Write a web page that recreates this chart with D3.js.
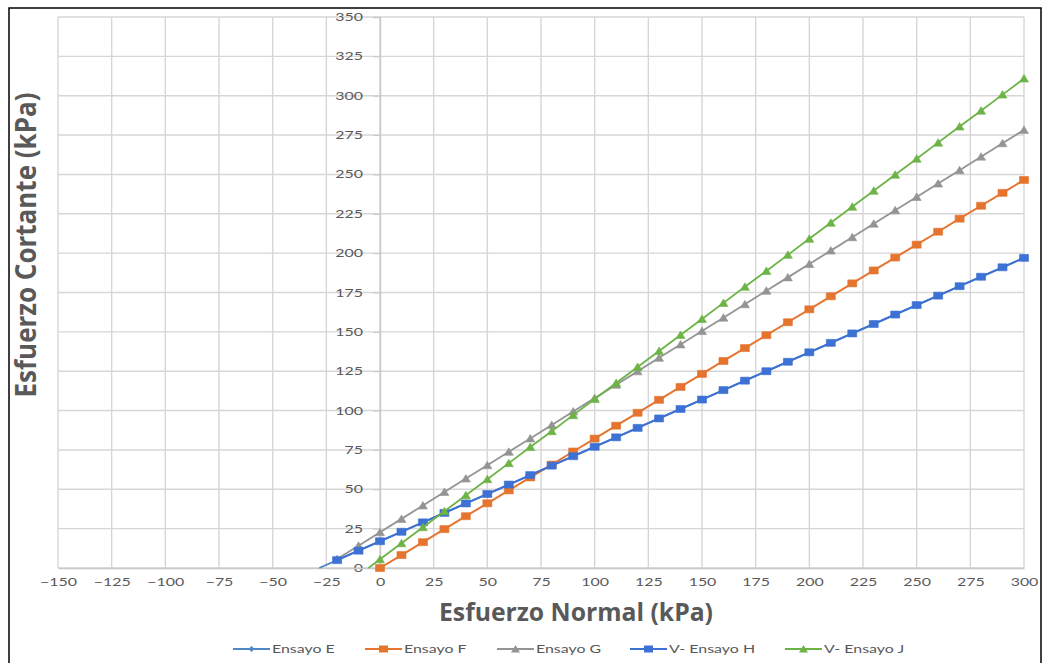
<!DOCTYPE html>
<html>
<head>
<meta charset="utf-8">
<script src="https://cdn.jsdelivr.net/npm/d3@7"></script>
<style>
  html, body { margin: 0; padding: 0; background: #fff; }
  svg { display: block; }
</style>
</head>
<body>
<svg id="chart" width="1046" height="663"></svg>
<script>
// ---- Data ----
const xTicks = [-150, -125, -100, -75, -50, -25, 0, 25, 50, 75, 100, 125, 150, 175, 200, 225, 250, 275, 300];
const yTicks = [0, 25, 50, 75, 100, 125, 150, 175, 200, 225, 250, 275, 300, 325, 350];

// normal stress values (kPa) at which points are plotted
const xFrom20 = [-20, -10, 0, 10, 20, 30, 40, 50, 60, 70, 80, 90, 100, 110, 120, 130, 140, 150, 160, 170, 180, 190, 200, 210, 220, 230, 240, 250, 260, 270, 280, 290, 300];
const xFrom0 = [0, 10, 20, 30, 40, 50, 60, 70, 80, 90, 100, 110, 120, 130, 140, 150, 160, 170, 180, 190, 200, 210, 220, 230, 240, 250, 260, 270, 280, 290, 300];

const xEnsayoE = [-28.3].concat(xFrom20);
const yEnsayoE = [0, 5.0, 11.0, 17.0, 23.0, 29.0, 35.0, 41.0, 47.0, 53.0, 59.0, 65.0, 71.0, 77.0, 83.0, 89.0, 95.0, 101.0, 107.0, 113.0, 119.0, 125.0, 131.0, 137.0, 143.0, 149.0, 155.0, 161.0, 167.0, 173.0, 179.0, 185.0, 191.0, 197.0];

const xEnsayoF = xFrom0;
const yEnsayoF = [0, 8.2, 16.4, 24.7, 32.9, 41.1, 49.3, 57.5, 65.7, 74.0, 82.2, 90.4, 98.6, 106.8, 115.0, 123.3, 131.5, 139.7, 147.9, 156.1, 164.3, 172.6, 180.8, 189.0, 197.2, 205.4, 213.6, 221.9, 230.1, 238.3, 246.5];

const xEnsayoG = xFrom20;
const yEnsayoG = [5.7, 14.2, 22.7, 31.2, 39.7, 48.3, 56.8, 65.3, 73.8, 82.3, 90.9, 99.4, 107.9, 116.4, 124.9, 133.5, 142.0, 150.5, 159.0, 167.5, 176.1, 184.6, 193.1, 201.6, 210.1, 218.7, 227.2, 235.7, 244.2, 252.7, 261.3, 269.8, 278.3];

const xEnsayoH = xFrom20;
const yEnsayoH = [5.0, 11.0, 17.0, 23.0, 29.0, 35.0, 41.0, 47.0, 53.0, 59.0, 65.0, 71.0, 77.0, 83.0, 89.0, 95.0, 101.0, 107.0, 113.0, 119.0, 125.0, 131.0, 137.0, 143.0, 149.0, 155.0, 161.0, 167.0, 173.0, 179.0, 185.0, 191.0, 197.0];

const xEnsayoJ = [-5.4].concat(xFrom0);
const yEnsayoJ = [0, 5.5, 15.7, 25.9, 36.0, 46.2, 56.4, 66.6, 76.8, 86.9, 97.1, 107.3, 117.5, 127.7, 137.8, 148.0, 158.2, 168.4, 178.6, 188.7, 198.9, 209.1, 219.3, 229.5, 239.6, 249.8, 260.0, 270.2, 280.4, 290.5, 300.7, 310.9];

const seriesNames = ["Ensayo E", "Ensayo F", "Ensayo G", "V- Ensayo H", "V- Ensayo J"];

// ---- Build series ----
const series = [
  { name: seriesNames[0], xs: xEnsayoE, ys: yEnsayoE, color: "#4f86c6", marker: "diamond", mw: 6, mh: 6, width: 1.8 },
  { name: seriesNames[1], xs: xEnsayoF, ys: yEnsayoF, color: "#e5742f", marker: "square", mw: 9, mh: 7, width: 2 },
  { name: seriesNames[2], xs: xEnsayoG, ys: yEnsayoG, color: "#949494", marker: "triangle", mw: 9, mh: 7, width: 1.8 },
  { name: seriesNames[3], xs: xEnsayoH, ys: yEnsayoH, color: "#3d71d4", marker: "square", mw: 9, mh: 7, width: 2 },
  { name: seriesNames[4], xs: xEnsayoJ, ys: yEnsayoJ, color: "#6db346", marker: "triangle", mw: 9, mh: 7, width: 1.8 }
];

function markerPath(type, w, h) {
  const a = w / 2, b = h / 2;
  if (type === "square") return `M${-a},${-b}H${a}V${b}H${-a}Z`;
  if (type === "triangle") return `M0,${-b - 0.5}L${a},${b}L${-a},${b}Z`;
  return `M0,${-b}L${a},0L0,${b}L${-a},0Z`;
}

const svg = d3.select("#chart");
const plot = { left: 58, right: 1024, top: 17, bottom: 568 };

const x = d3.scaleLinear().domain([-150, 300]).range([plot.left, plot.right]);
const y = d3.scaleLinear().domain([0, 350]).range([plot.bottom, plot.top]);

const textColor = "#595959";
const gridColor = "#d6d6d6";
const SX = 1.45; // horizontal stretch of the small texts in the reference

// outer border
svg.append("rect")
  .attr("x", 9).attr("y", 8).attr("width", 1032).attr("height", 670)
  .attr("fill", "none").attr("stroke", "#000").attr("stroke-width", 1.5);

// gridlines
const grid = svg.append("g");
grid.selectAll("line.v").data(xTicks).join("line")
  .attr("x1", d => x(d)).attr("x2", d => x(d))
  .attr("y1", plot.top).attr("y2", plot.bottom)
  .attr("stroke", gridColor).attr("stroke-width", 1.4);
grid.selectAll("line.h").data(yTicks).join("line")
  .attr("x1", plot.left).attr("x2", plot.right)
  .attr("y1", d => y(d)).attr("y2", d => y(d))
  .attr("stroke", gridColor).attr("stroke-width", 1.4);

// y axis at x = 0
const yAxis = d3.axisLeft(y).tickValues(yTicks).tickSize(7).tickPadding(0);
const gy = svg.append("g").attr("transform", `translate(${x(0)},0)`).call(yAxis);
gy.select(".domain").attr("stroke", "#c8c8c8").attr("stroke-width", 1.4);
gy.selectAll(".tick line").attr("stroke", "#c8c8c8");
gy.selectAll(".tick text")
  .attr("x", -17 / SX)
  .attr("transform", `scale(${SX},1)`)
  .attr("fill", textColor)
  .style("font-family", "Lato, 'Liberation Sans', sans-serif").style("font-size", "11px");

// x axis at y = 0
const xAxis = d3.axisBottom(x).tickValues(xTicks).tickSize(0).tickPadding(10);
const gx = svg.append("g").attr("transform", `translate(0,${y(0)})`).call(xAxis);
gx.select(".domain").attr("stroke", "#c8c8c8").attr("stroke-width", 1.4);
gx.selectAll(".tick text")
  .attr("transform", `scale(${SX},1)`)
  .attr("fill", textColor)
  .style("font-family", "Lato, 'Liberation Sans', sans-serif").style("font-size", "11px");

// series lines & markers
const line = d3.line().x(d => x(d[0])).y(d => y(d[1]));

series.forEach(s => {
  const pts = s.xs.map((xv, i) => [xv, s.ys[i]]);
  const g = svg.append("g");
  g.append("path").datum(pts)
    .attr("d", line).attr("fill", "none")
    .attr("stroke", s.color).attr("stroke-width", s.width)
    .attr("stroke-linejoin", "round");
  g.selectAll("path.m").data(pts.filter(p => p[0] % 10 === 0)).join("path")
    .attr("class", "m")
    .attr("d", markerPath(s.marker, s.mw, s.mh))
    .attr("transform", p => `translate(${x(p[0])},${y(p[1])})`)
    .attr("fill", s.color).attr("stroke", s.color).attr("stroke-width", 0.6);
});

// axis titles
svg.append("text")
  .attr("x", 576).attr("y", 621)
  .attr("text-anchor", "middle")
  .attr("fill", textColor)
  .attr("textLength", 274).attr("lengthAdjust", "spacingAndGlyphs")
  .style("font-family", "'Open Sans', sans-serif").style("font-weight", "bold").style("font-size", "25px")
  .text("Esfuerzo Normal (kPa)");

svg.append("text")
  .attr("transform", "translate(36,245) scale(1.35,1) rotate(-90)")
  .attr("text-anchor", "middle")
  .attr("fill", textColor)
  .attr("textLength", 305).attr("lengthAdjust", "spacingAndGlyphs")
  .style("font-family", "'Open Sans', sans-serif").style("font-weight", "bold").style("font-size", "21px")
  .text("Esfuerzo Cortante (kPa)");

// legend
const legendX = [233, 365, 497, 630, 785];
const leg = svg.append("g");
series.forEach((s, i) => {
  const lx = legendX[i], ly = 649;
  leg.append("line").attr("x1", lx).attr("x2", lx + 37).attr("y1", ly).attr("y2", ly)
    .attr("stroke", s.color).attr("stroke-width", 1.8);
  leg.append("path")
    .attr("d", markerPath(s.marker, s.mw, s.mh))
    .attr("transform", `translate(${lx + 18.5},${ly})`)
    .attr("fill", s.color);
  leg.append("text")
    .attr("transform", `translate(${lx + 39},${ly + 4}) scale(${SX},1)`)
    .attr("fill", textColor)
    .style("font-family", "Lato, 'Liberation Sans', sans-serif").style("font-size", "11px")
    .text(s.name);
});
</script>
</body>
</html>
